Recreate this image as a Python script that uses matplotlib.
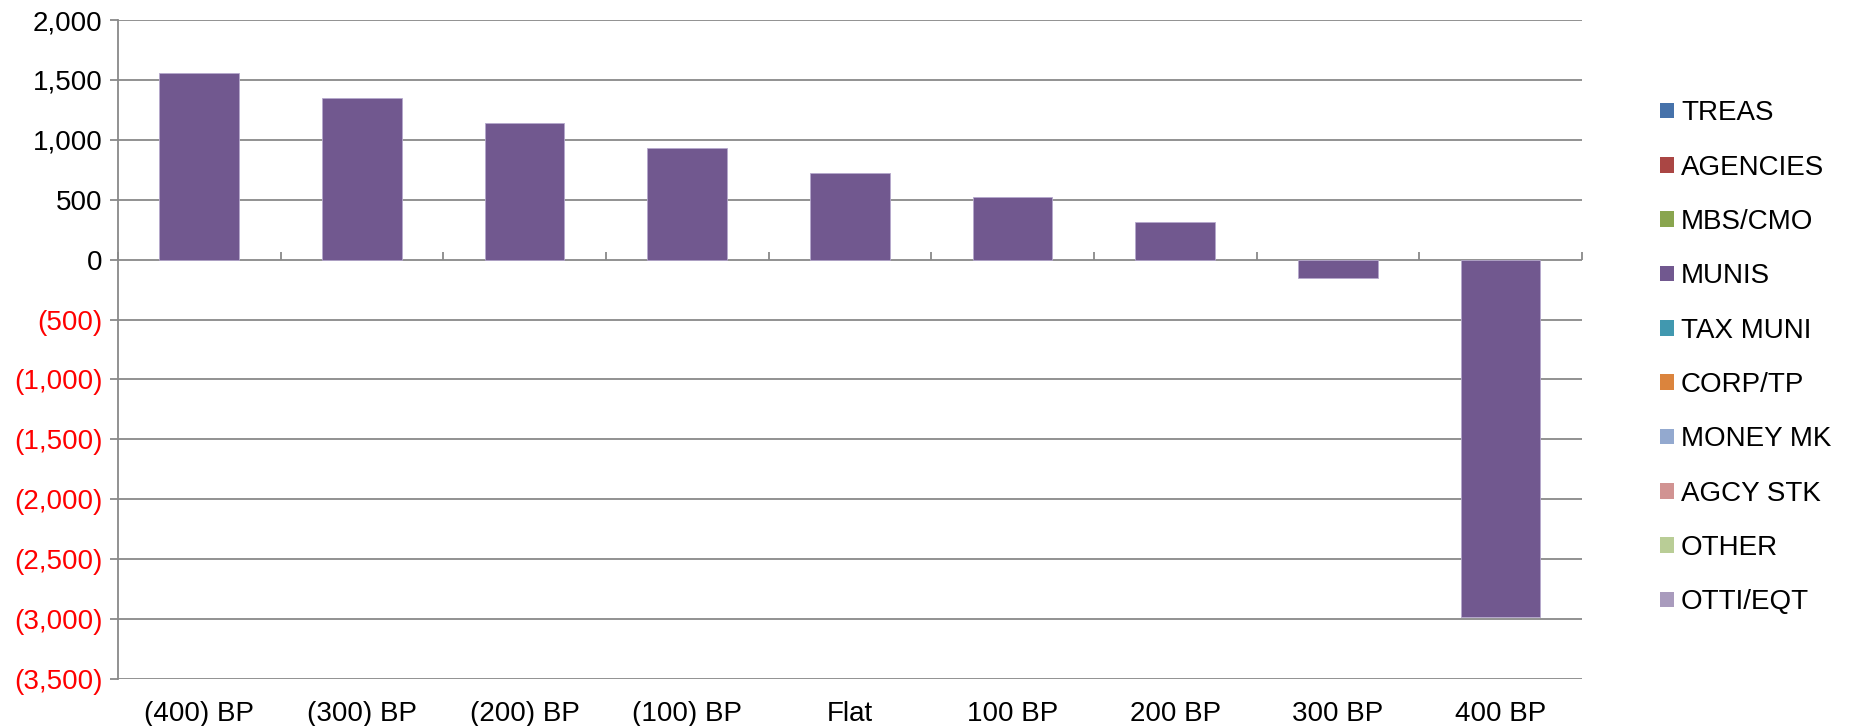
import numpy as np
import matplotlib.pyplot as plt
import matplotlib
from matplotlib.patches import Patch
from matplotlib.ticker import FuncFormatter

matplotlib.rcParams['font.family'] = ['Liberation Sans', 'DejaVu Sans']

# rate shock scenarios
scenarios = ['(400) BP', '(300) BP', '(200) BP', '(100) BP', 'Flat',
             '100 BP', '200 BP', '300 BP', '400 BP']

series_names = ['TREAS', 'AGENCIES', 'MBS/CMO', 'MUNIS', 'TAX MUNI',
                'CORP/TP', 'MONEY MK', 'AGCY STK', 'OTHER', 'OTTI/EQT']
series_colors = ['#4672AA', '#AA4644', '#89A54E', '#71588F', '#4198AF',
                 '#DB843D', '#93A9CF', '#D19392', '#B9CD96', '#A99BBD']

# only MUNIS carries values, the rest are empty
treas = [0, 0, 0, 0, 0, 0, 0, 0, 0]
agencies = [0, 0, 0, 0, 0, 0, 0, 0, 0]
mbs_cmo = [0, 0, 0, 0, 0, 0, 0, 0, 0]
munis = [1558, 1353, 1142, 935, 726, 521, 312, -156, -2980]
tax_muni = [0, 0, 0, 0, 0, 0, 0, 0, 0]
corp_tp = [0, 0, 0, 0, 0, 0, 0, 0, 0]
money_mk = [0, 0, 0, 0, 0, 0, 0, 0, 0]
agcy_stk = [0, 0, 0, 0, 0, 0, 0, 0, 0]
other = [0, 0, 0, 0, 0, 0, 0, 0, 0]
otti_eqt = [0, 0, 0, 0, 0, 0, 0, 0, 0]
all_series = [treas, agencies, mbs_cmo, munis, tax_muni,
              corp_tp, money_mk, agcy_stk, other, otti_eqt]

y_ticks = np.arange(-3500, 2001, 500)

grid_c = '#898989'
fs = 20

fig = plt.figure(figsize=(18.54, 7.26), dpi=100, facecolor='white')
ax = fig.add_axes([0.0636, 0.0647, 0.7896, 0.9077])

x = np.arange(len(scenarios))
pos_base = np.zeros(len(scenarios))
neg_base = np.zeros(len(scenarios))
for vals, col in zip(all_series, series_colors):
    v = np.array(vals, dtype=float)
    base = np.where(v >= 0, pos_base, neg_base)
    if np.any(v != 0):
        ax.bar(x, v, 0.49, bottom=base, color=col, edgecolor='#B5A8CC',
               linewidth=0.6, zorder=3)
    pos_base += np.where(v > 0, v, 0)
    neg_base += np.where(v < 0, v, 0)

ax.set_xlim(-0.5, len(scenarios) - 0.5)
ax.set_ylim(y_ticks[0], y_ticks[-1])
ax.set_yticks(y_ticks)
ax.yaxis.grid(True, color=grid_c, linewidth=1.3)
ax.set_axisbelow(True)

def fmt(v, pos):
    if v < 0:
        return '({:,.0f})'.format(-v)
    return '{:,.0f}'.format(v)

ax.yaxis.set_major_formatter(FuncFormatter(fmt))
ax.tick_params(axis='y', length=6, width=1.3, color=grid_c, pad=5, labelsize=fs)
for lab, v in zip(ax.get_yticklabels(), y_ticks):
    lab.set_color('red' if v < 0 else 'black')

ax.set_xticks(x)
ax.set_xticklabels(scenarios)
ax.tick_params(axis='x', length=0, pad=15.5, labelsize=fs)

for s in ['top', 'right', 'bottom']:
    ax.spines[s].set_visible(False)
ax.spines['left'].set_color(grid_c)
ax.spines['left'].set_linewidth(1.3)

# category axis sits on the zero line
zero_loc = (0 - y_ticks[0]) / (y_ticks[-1] - y_ticks[0])
sec = ax.secondary_xaxis(zero_loc)
sec.set_xticks(np.arange(-0.5, len(scenarios), 1.0))
sec.set_xticklabels([])
sec.tick_params(axis='x', direction='out', length=6, width=1.3, color=grid_c)
sec.spines['bottom'].set_color(grid_c)
sec.spines['bottom'].set_linewidth(1.3)
for s in ['top', 'left', 'right']:
    sec.spines[s].set_visible(False)

handles = [Patch(facecolor=c, edgecolor='none') for c in series_colors]
fig.legend(handles, series_names, loc='center left',
           bbox_to_anchor=(0.8955, 0.507), frameon=False, fontsize=fs,
           handlelength=0.5, handleheight=0.5, handletextpad=0.25,
           labelspacing=1.02, borderpad=0, borderaxespad=0)

plt.savefig('out.png', dpi=100, facecolor='white')
